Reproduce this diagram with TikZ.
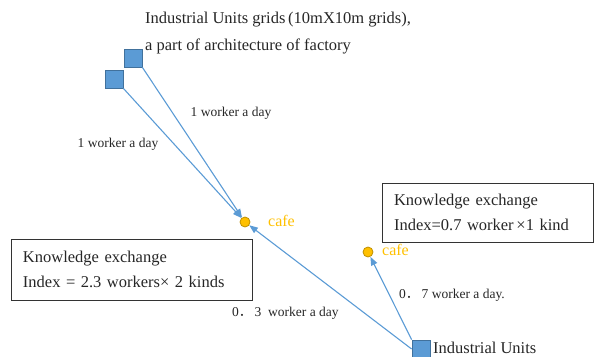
\documentclass[tikz,border=0pt]{standalone}
\usepackage{fontspec}
\setmainfont{Liberation Serif}
\newfontfamily\cjk{Noto Sans CJK JP}
\usepackage{xcolor}
\usepackage{tikz}
\usetikzlibrary{positioning, arrows.meta}
\definecolor{unitfill} {HTML}{5B9BD5}
\definecolor{unitedge} {HTML}{41719C}
\definecolor{flowline} {HTML}{5B9BD5}
\definecolor{cafefill} {HTML}{FFC000}
\definecolor{cafeedge} {HTML}{BF9000}
\definecolor{cafetext} {HTML}{FFC000}
\tikzset{
  >={Triangle[length=3.0mm, width=2.3mm]},
  unit/.style={
    draw=unitedge, line width=0.8pt, rectangle,
    minimum size=18pt, inner sep=0pt, fill=unitfill
  },
  cafe/.style={
    draw=cafeedge, line width=0.8pt, circle,
    minimum size=10pt, inner sep=0pt, fill=cafefill
  },
  cafelabel/.style={
    font=\fontsize{16}{18}\selectfont, text=cafetext,
    anchor=west, inner sep=0pt
  },
  kexbox/.style={
    draw=black!80, line width=0.9pt, rectangle,
    align=left, inner xsep=12pt, inner ysep=0pt,
    font=\fontsize{16.5}{25}\selectfont, text=black!85
  },
  title/.style={
    font=\fontsize{16.5}{26}\selectfont, text=black!85,
    anchor=west, inner sep=0pt
  },
  flowlabel/.style={
    font=\fontsize{13.5}{16}\selectfont, text=black!85, inner sep=0pt
  },
  flow/.style={
    ->, draw=flowline, line width=1.1pt
  },
}

\begin{document}
\begin{tikzpicture}[x=1pt, y=-1pt]
\useasboundingbox (0,0) rectangle (594,356);

% ---- Title ---------------------------------------------------------
\node[title] (ttl1) at (145, 20) {Industrial Units grids\,(10mX10m grids),};
\node[title] (ttl2) at (145, 46) {a part of architecture of factory};

% ---- Industrial units ----------------------------------------------
\node[unit] (unitA) at (133, 58)  {};
\node[unit] (unitB) at (114, 79)  {};
\node[unit] (unitC) at (421, 349) {};
\node[title] (unitClbl) at (433, 348) {Industrial Units};

% ---- Cafes -----------------------------------------------------------
\node[cafe] (cafeL) at (245, 222) {};
\node[cafe] (cafeR) at (368, 252) {};
\node[cafelabel] (cafeLlbl) at (268, 221) {cafe};
\node[cafelabel] (cafeRlbl) at (382, 250) {cafe};

% ---- Knowledge exchange boxes -------------------------------------
\node[kexbox, minimum width=241pt, minimum height=61pt, text width=217pt]
  (kexL) at (131.5, 269.5) {Knowledge exchange\\Index = 2.3 workers× 2 kinds};
\node[kexbox, minimum width=211pt, minimum height=59pt, text width=187pt]
  (kexR) at (487.5, 212.5) {Knowledge exchange\\Index=0.7 worker\,×1 kind};

% ---- Flows ---------------------------------------------------------
\draw[flow] (unitA.south east) -- (cafeL);
\draw[flow] (unitB.south east) -- (cafeL);
\draw[flow] (unitC.west)       -- (cafeL);
\draw[flow] (unitC.north west) -- (cafeR);

% ---- Flow labels ---------------------------------------------------
\node[flowlabel] (lblA) at (231, 113) {1 worker a day};
\node[flowlabel] (lblB) at (118, 144) {1 worker a day};
\node[flowlabel, anchor=west] (lblC) at (232, 313)
  {0{\cjk ．}\,3\enspace worker a day};
\node[flowlabel, anchor=west] (lblR) at (399, 295)
  {0{\cjk ．}\,7 worker a day.};

\end{tikzpicture}
\end{document}
